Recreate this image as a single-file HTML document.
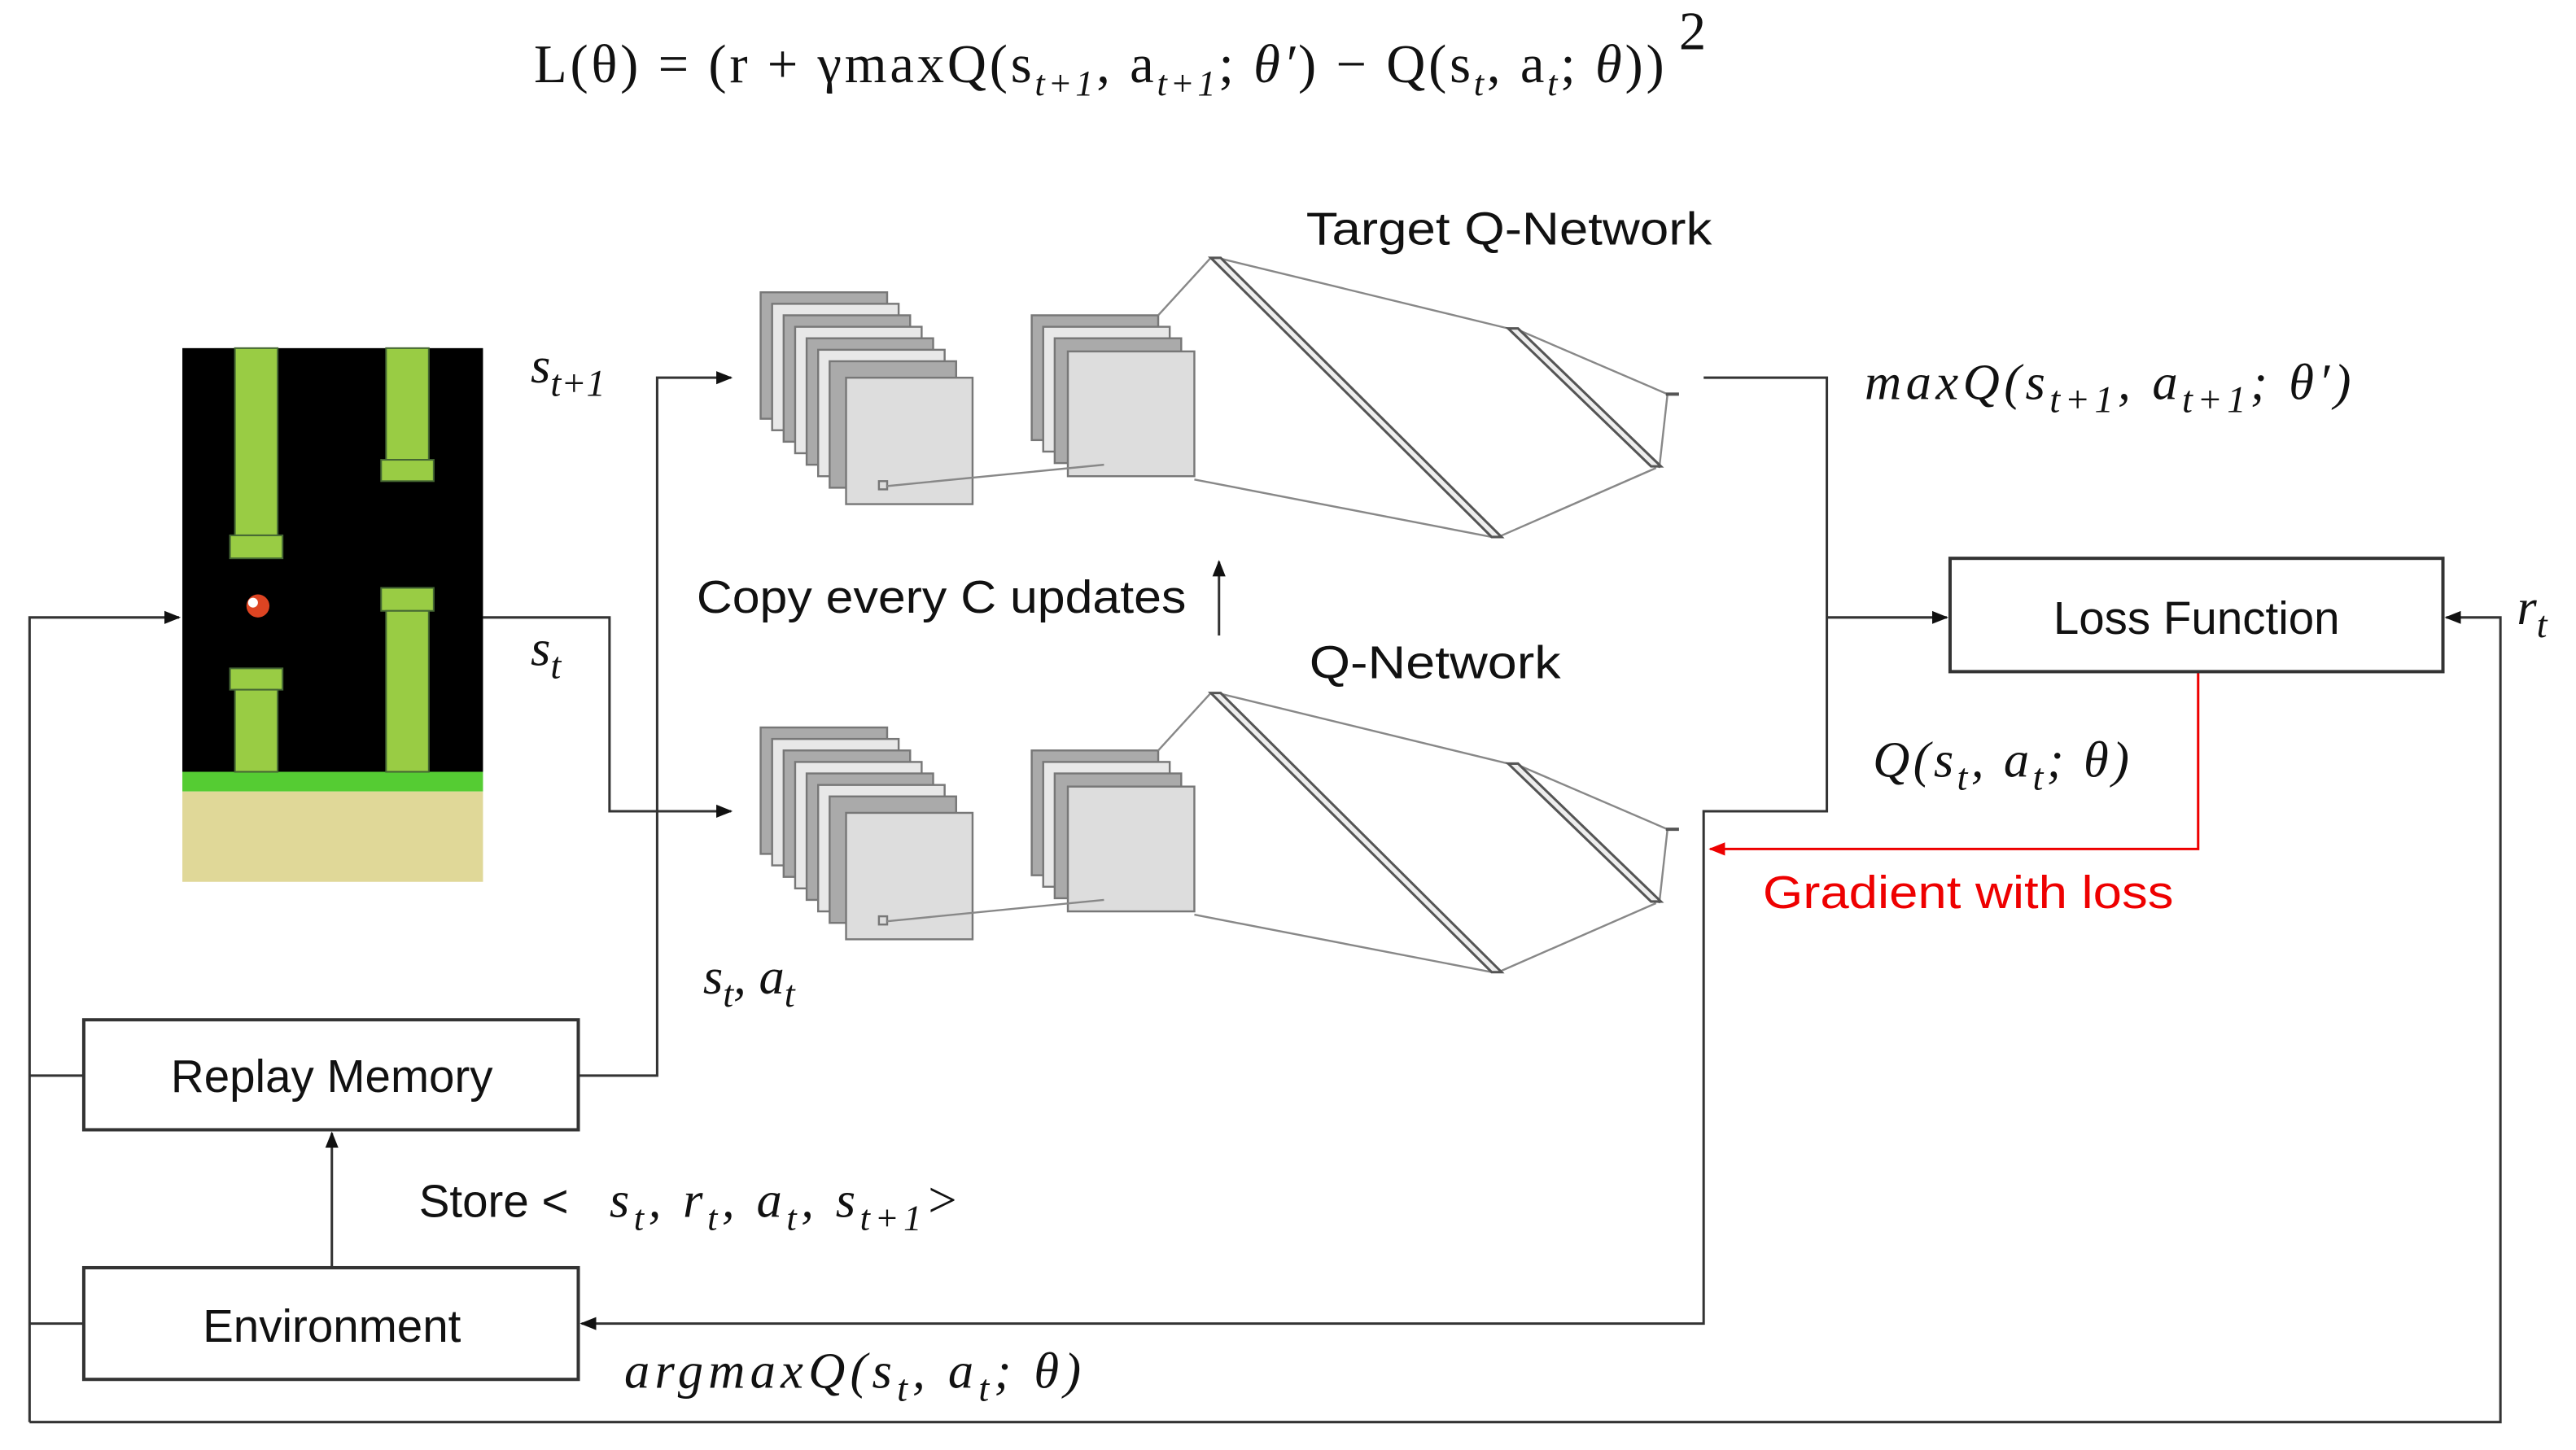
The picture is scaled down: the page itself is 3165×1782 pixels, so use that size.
<!DOCTYPE html>
<html><head><meta charset="utf-8"><style>
html,body{margin:0;padding:0;background:#fff;}
svg{display:block;}
.t{font-family:"Liberation Sans",sans-serif;font-size:28px;fill:#111;}
.m{font-family:"Liberation Serif",serif;font-style:italic;font-size:31px;fill:#111;}
.f{font-family:"Liberation Serif",serif;font-size:33px;fill:#111;}
</style></head><body>
<svg width="3165" height="1782" viewBox="0 0 1568 883" preserveAspectRatio="none" xmlns="http://www.w3.org/2000/svg">
<defs>
<marker id="a" markerWidth="10" markerHeight="10" refX="9" refY="5" orient="auto" markerUnits="userSpaceOnUse"><path d="M0,1 L10,5 L0,9z" fill="#111"/></marker>
<marker id="r" markerWidth="10" markerHeight="10" refX="9" refY="5" orient="auto" markerUnits="userSpaceOnUse"><path d="M0,1 L10,5 L0,9z" fill="#e00"/></marker>
<g id="net">
  <g stroke="#777" stroke-width="1.2">
    <rect x="463" y="178" width="77" height="77" fill="#aaa"/>
    <rect x="470" y="185" width="77" height="77" fill="#e8e8e8"/>
    <rect x="477" y="192" width="77" height="77" fill="#aaa"/>
    <rect x="484" y="199" width="77" height="77" fill="#e8e8e8"/>
    <rect x="491" y="206" width="77" height="77" fill="#aaa"/>
    <rect x="498" y="213" width="77" height="77" fill="#e8e8e8"/>
    <rect x="505" y="220" width="77" height="77" fill="#aaa"/>
    <rect x="515" y="230" width="77" height="77" fill="#ddd"/>
    <rect x="628" y="192" width="77" height="76" fill="#aaa"/>
    <rect x="635" y="199" width="77" height="76" fill="#e8e8e8"/>
    <rect x="642" y="206" width="77" height="76" fill="#aaa"/>
    <rect x="650" y="214" width="77" height="76" fill="#ddd"/>
    <rect x="535" y="293" width="5" height="5" fill="#ddd"/>
  </g>
  <g stroke="#888" stroke-width="1.2" fill="none">
    <line x1="540" y1="296" x2="672" y2="283"/>
    <line x1="705" y1="192" x2="737" y2="157"/>
    <line x1="727" y1="292" x2="908" y2="327"/>
    <line x1="741" y1="157" x2="918" y2="200"/>
    <line x1="912" y1="327" x2="1008" y2="285"/>
    <line x1="922" y1="200" x2="1015" y2="240"/>
    <line x1="1010" y1="285" x2="1015" y2="240"/>
  </g>
  <polygon points="737,157 743,157 914,327 908,327" fill="#eee" stroke="#555" stroke-width="1.5"/>
  <polygon points="918,200 924,200 1011,284 1005,284" fill="#eee" stroke="#555" stroke-width="1.5"/>
  <line x1="1014" y1="240" x2="1022" y2="240" stroke="#555" stroke-width="2"/>
</g>
</defs>

<text class="f" x="325" y="50" textLength="688" lengthAdjust="spacing">L(θ) = (r + γmaxQ(s<tspan font-size="22" dy="8" font-style="italic">t+1</tspan><tspan dy="-8">, a</tspan><tspan font-size="22" dy="8" font-style="italic">t+1</tspan><tspan dy="-8">; </tspan><tspan font-style="italic">θ′</tspan>) − Q(s<tspan font-size="22" dy="8" font-style="italic">t</tspan><tspan dy="-8">, a</tspan><tspan font-size="22" dy="8" font-style="italic">t</tspan><tspan dy="-8">; </tspan><tspan font-style="italic">θ</tspan>))</text>
<text class="f" x="1022" y="30" font-size="21">2</text>

<!-- game -->
<rect x="111" y="212" width="183" height="258" fill="#000"/>
<rect x="111" y="470" width="183" height="12" fill="#5c3"/>
<rect x="111" y="482" width="183" height="55" fill="#e0d898"/>
<g fill="#9c4" stroke="#463" stroke-width="1">
<rect x="143" y="212" width="26" height="114"/><rect x="140" y="326" width="32" height="14"/>
<rect x="235" y="212" width="26" height="68"/><rect x="232" y="280" width="32" height="13"/>
<rect x="140" y="407" width="32" height="13"/><rect x="143" y="420" width="26" height="50"/>
<rect x="232" y="358" width="32" height="14"/><rect x="235" y="372" width="26" height="98"/>
</g>
<circle cx="157" cy="369" r="7" fill="#d42"/><circle cx="154" cy="367" r="3" fill="#fff"/>

<use href="#net"/>
<use href="#net" transform="translate(0,265)"/>

<g stroke="#333" stroke-width="1.5" fill="none">
  <polyline points="18,866 18,376 109,376" marker-end="url(#a)"/>
  <polyline points="294,376 371,376 371,494 445,494" marker-end="url(#a)"/>
  <polyline points="352,655 400,655 400,230 445,230" marker-end="url(#a)"/>
  <line x1="742" y1="387" x2="742" y2="342" marker-end="url(#a)"/>
  <polyline points="1037,230 1112,230 1112,494 1037,494 1037,806 354,806" marker-end="url(#a)"/>
  <line x1="1112" y1="376" x2="1185" y2="376" marker-end="url(#a)"/>
  <polyline points="18,866 1522,866 1522,376 1489,376" marker-end="url(#a)"/>
  <line x1="18" y1="655" x2="51" y2="655"/>
  <line x1="18" y1="806" x2="51" y2="806"/>
  <line x1="202" y1="772" x2="202" y2="690" marker-end="url(#a)"/>
</g>
<polyline points="1338,409 1338,517 1041,517" stroke="#e00" stroke-width="1.5" fill="none" marker-end="url(#r)"/>

<rect x="1187" y="340" width="300" height="69" fill="#fff" stroke="#333" stroke-width="2"/>
<rect x="51" y="621" width="301" height="67" fill="#fff" stroke="#333" stroke-width="2"/>
<rect x="51" y="772" width="301" height="68" fill="#fff" stroke="#333" stroke-width="2"/>

<text class="t" x="1337" y="386" text-anchor="middle">Loss Function</text>
<text class="t" x="202" y="665" text-anchor="middle">Replay Memory</text>
<text class="t" x="202" y="817" text-anchor="middle">Environment</text>
<text class="t" x="795" y="149" textLength="247" lengthAdjust="spacingAndGlyphs">Target Q-Network</text>
<text class="t" x="797" y="413" textLength="153" lengthAdjust="spacingAndGlyphs">Q-Network</text>
<text class="t" x="424" y="373" textLength="298" lengthAdjust="spacingAndGlyphs">Copy every C updates</text>
<text class="t" x="1073" y="553" style="fill:#e00" textLength="250" lengthAdjust="spacingAndGlyphs">Gradient with loss</text>
<text class="t" x="255" y="741">Store &lt;</text>
<text class="m" x="371" y="741" textLength="190" lengthAdjust="spacing">s<tspan font-size="22" dy="8">t</tspan><tspan dy="-8">, r</tspan><tspan font-size="22" dy="8">t</tspan><tspan dy="-8">, a</tspan><tspan font-size="22" dy="8">t</tspan><tspan dy="-8">, s</tspan><tspan font-size="22" dy="8">t+1</tspan></text>
<text class="m" x="563" y="741" font-style="normal">&gt;</text>

<text class="m" x="323" y="233">s<tspan font-size="23" dy="8">t+1</tspan></text>
<text class="m" x="323" y="405">s<tspan font-size="23" dy="8">t</tspan></text>
<text class="m" x="428" y="605">s<tspan font-size="23" dy="8">t</tspan><tspan dy="-8">, a</tspan><tspan font-size="23" dy="8">t</tspan></text>
<text class="m" x="1135" y="243" textLength="296" lengthAdjust="spacing">maxQ(s<tspan font-size="23" dy="8">t+1</tspan><tspan dy="-8">, a</tspan><tspan font-size="23" dy="8">t+1</tspan><tspan dy="-8">; θ′)</tspan></text>
<text class="m" x="1140" y="473" textLength="156" lengthAdjust="spacing">Q(s<tspan font-size="23" dy="8">t</tspan><tspan dy="-8">, a</tspan><tspan font-size="23" dy="8">t</tspan><tspan dy="-8">; θ)</tspan></text>
<text class="m" x="1532" y="380">r<tspan font-size="23" dy="8">t</tspan></text>
<text class="m" x="380" y="845" textLength="278" lengthAdjust="spacing">argmaxQ(s<tspan font-size="23" dy="8">t</tspan><tspan dy="-8">, a</tspan><tspan font-size="23" dy="8">t</tspan><tspan dy="-8">; θ)</tspan></text>
</svg>
</body></html>
